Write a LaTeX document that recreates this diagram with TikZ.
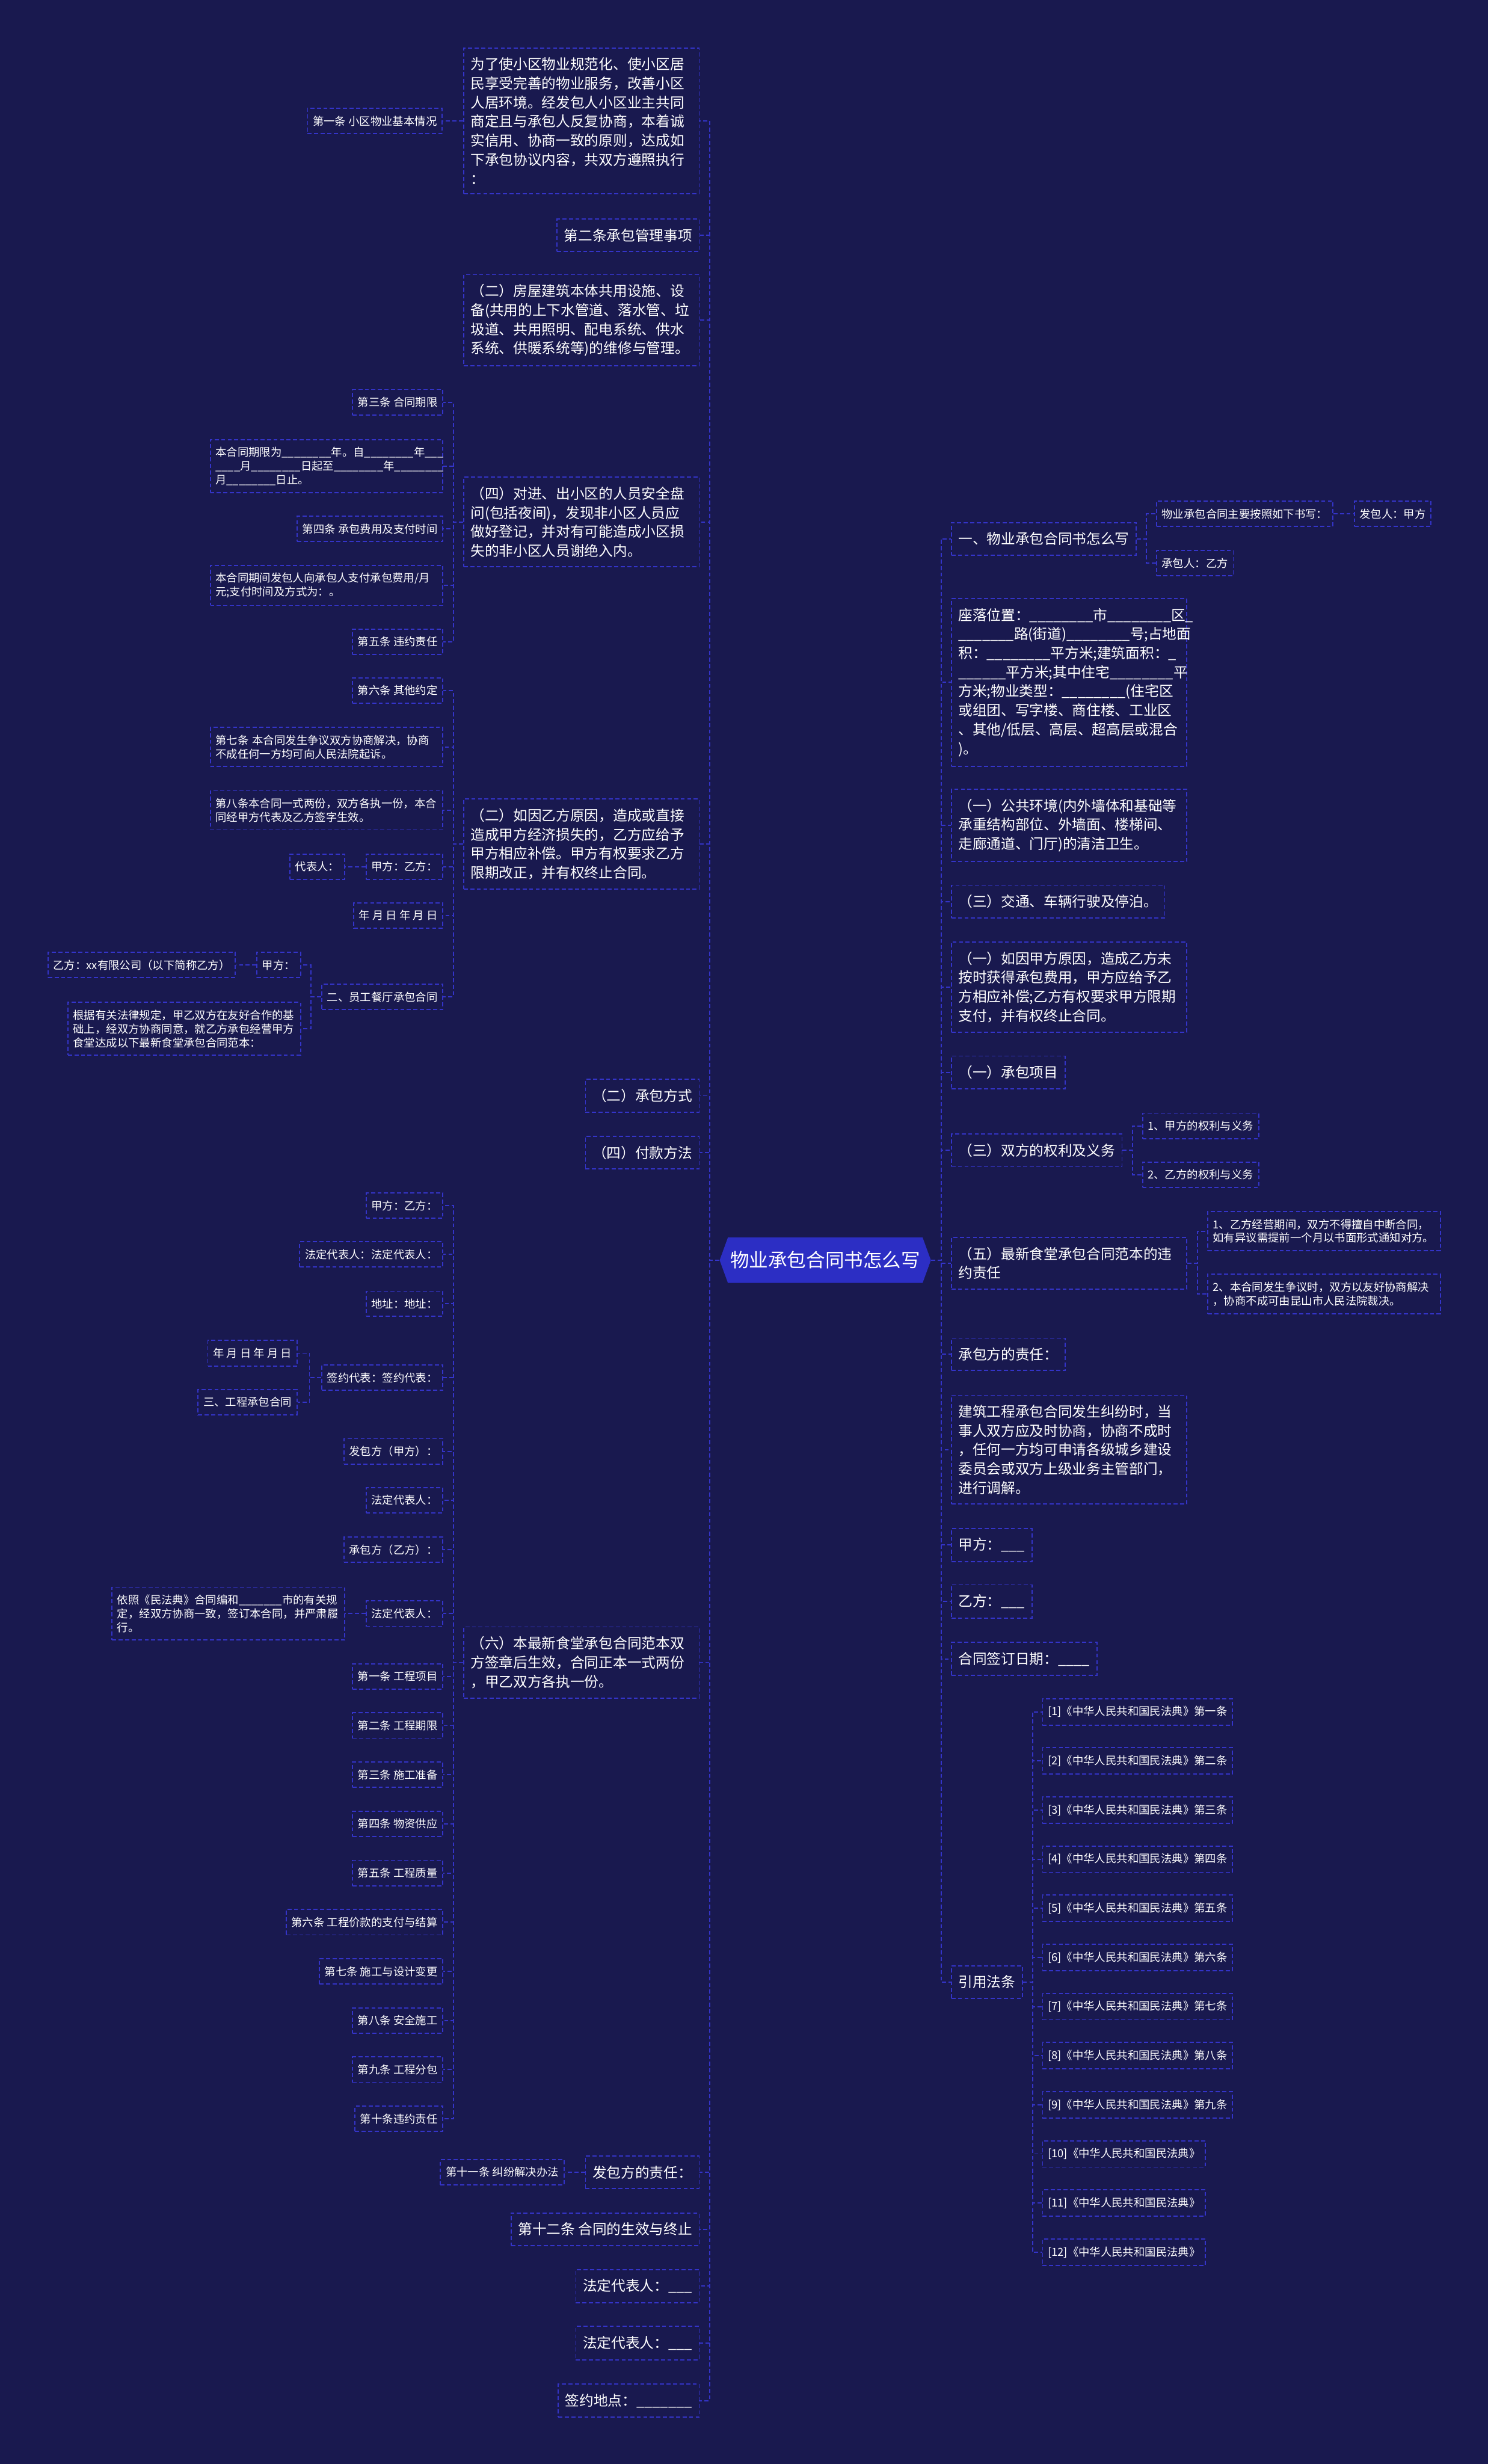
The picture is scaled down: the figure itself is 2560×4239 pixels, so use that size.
\documentclass[tikz,border=0pt]{standalone}
\usepackage{fontspec}
\setmainfont{Noto Sans CJK SC}
\usetikzlibrary{positioning,calc,shapes.symbols}
\definecolor{bgcol}{HTML}{19194F}
\definecolor{linecol}{HTML}{3434C8}
\definecolor{hubcol}{HTML}{2C2EC4}

\begin{document}
\begin{tikzpicture}[
    x=0.01cm, y=-0.01cm,
    node distance = 0.35cm,
    box/.style = {rectangle, draw=linecol, line width=0.55pt, dash pattern=on 2pt off 1.2pt, text=white},
    big/.style = {box, font=\fontsize{6.97pt}{9.33pt}\selectfont, inner xsep=0.12cm, inner ysep=0.165cm},
    small/.style = {box, font=\fontsize{5.41pt}{6.69pt}\selectfont, inner xsep=0.09cm, inner ysep=0.13cm},
    bigpara/.style = {big, text width=3.81cm, align=left},
    smallpara/.style = {small, text width=3.82cm, align=left},
    hub/.style = {signal, signal to=west and east, signal pointer angle=140, fill=hubcol, text=white,
        font=\fontsize{9.3pt}{11pt}\selectfont, minimum height=0.78cm, inner xsep=0.04cm},
    link/.style = {draw=linecol, line width=0.55pt, dash pattern=on 2pt off 1.2pt}
]

% Background
\fill[bgcol] (0,0) rectangle (2560,4239);
\useasboundingbox (0,0) rectangle (2560,4239);

% Root
\node[hub] (hub) at (1420,2168) {物业承包合同书怎么写};

% Left branches
\node[bigpara, anchor=east] (intro) at (1204,208) {为了使小区物业规范化、使小区居\\民享受完善的物业服务，改善小区\\人居环境。经发包人小区业主共同\\商定且与承包人反复协商，本着诚\\实信用、协商一致的原则，达成如\\下承包协议内容，共双方遵照执行\\：};
\node[small, left=of intro] (art1info) {第一条 小区物业基本情况};
\node[big, anchor=east] (mgmt) at (1204,405) {第二条承包管理事项};
\node[bigpara, anchor=east] (repair) at (1204,551) {（二）房屋建筑本体共用设施、设\\备(共用的上下水管道、落水管、垃\\圾道、共用照明、配电系统、供水\\系统、供暖系统等)的维修与管理。};
\node[bigpara, anchor=east] (guard) at (1204,898) {（四）对进、出小区的人员安全盘\\问(包括夜间)，发现非小区人员应\\做好登记，并对有可能造成小区损\\失的非小区人员谢绝入内。};
\node[bigpara, anchor=east] (lossB) at (1204,1452) {（二）如因乙方原因，造成或直接\\造成甲方经济损失的，乙方应给予\\甲方相应补偿。甲方有权要求乙方\\限期改正，并有权终止合同。};
\node[big, anchor=east] (mode) at (1204,1885) {（二）承包方式};
\node[big, anchor=east] (pay) at (1204,1983) {（四）付款方法};
\node[bigpara, anchor=east] (effect) at (1204,2860) {（六）本最新食堂承包合同范本双\\方签章后生效，合同正本一式两份\\，甲乙双方各执一份。};
\node[big, anchor=east] (empDuty) at (1204,3737) {发包方的责任：};
\node[small, left=of empDuty] (w11) {第十一条 纠纷解决办法};
\node[big, anchor=east] (w12) at (1204,3835) {第十二条 合同的生效与终止};
\node[big, anchor=east] (legalA) at (1204,3933) {法定代表人：\_\_\_};
\node[big, anchor=east] (legalB) at (1204,4031) {法定代表人：\_\_\_};
\node[big, anchor=east] (place) at (1204,4130) {签约地点：\_\_\_\_\_\_\_};

% Property contract terms
\node[small, anchor=east] (term) at (763,692) {第三条 合同期限};
\node[smallpara, anchor=east] (termtext) at (763,802) {本合同期限为\_\_\_\_\_\_\_\_年。自\_\_\_\_\_\_\_\_年\_\_\_\\\_\_\_\_月\_\_\_\_\_\_\_\_日起至\_\_\_\_\_\_\_\_年\_\_\_\_\_\_\_\_\\月\_\_\_\_\_\_\_\_日止。};
\node[small, anchor=east] (fee) at (763,910) {第四条 承包费用及支付时间};
\node[smallpara, anchor=east] (feetext) at (763,1007) {本合同期间发包人向承包人支付承包费用/月\\元;支付时间及方式为：。};
\node[small, anchor=east] (breach) at (763,1104) {第五条 违约责任};
\node[small, anchor=east] (other) at (763,1188) {第六条 其他约定};
\node[smallpara, anchor=east] (dispute) at (763,1285) {第七条 本合同发生争议双方协商解决，协商\\不成任何一方均可向人民法院起诉。};
\node[smallpara, anchor=east] (copies) at (763,1394) {第八条本合同一式两份，双方各执一份，本合\\同经甲方代表及乙方签字生效。};
\node[small, anchor=east] (sign) at (763,1491) {甲方：乙方：};
\node[small, left=of sign] (rep) {代表人：};
\node[small, anchor=east] (date) at (763,1575) {年 月 日 年 月 日};
\node[small, anchor=east] (canteen) at (763,1715) {二、员工餐厅承包合同};
\node[small, anchor=east] (partyA) at (518,1660) {甲方：};
\node[small, left=of partyA] (partyB) {乙方：xx有限公司（以下简称乙方）};
\node[smallpara, anchor=east] (basis) at (518,1770) {根据有关法律规定，甲乙双方在友好合作的基\\础上，经双方协商同意，就乙方承包经营甲方\\食堂达成以下最新食堂承包合同范本：};

% Construction contract terms
\node[small, anchor=east] (cAB) at (763,2074) {甲方：乙方：};
\node[small, anchor=east] (cLegal) at (763,2158) {法定代表人：法定代表人：};
\node[small, anchor=east] (cAddr) at (763,2243) {地址：地址：};
\node[small, anchor=east] (cSign) at (763,2370) {签约代表：签约代表：};
\node[small, anchor=east] (cDate) at (512,2328) {年 月 日 年 月 日};
\node[small, anchor=east] (civil) at (512,2412) {三、工程承包合同};
\node[small, anchor=east] (employer) at (763,2497) {发包方（甲方）：};
\node[small, anchor=east] (empLegal) at (763,2581) {法定代表人：};
\node[small, anchor=east] (contractor) at (763,2666) {承包方（乙方）：};
\node[small, anchor=east] (conLegal) at (763,2776) {法定代表人：};
\node[smallpara, left=of conLegal] (civilBasis) {依照《民法典》合同编和\_\_\_\_\_\_\_市的有关规\\定，经双方协商一致，签订本合同，并严肃履\\行。};
\foreach \t [count=\i] in {第一条 工程项目, 第二条 工程期限, 第三条 施工准备, 第四条 物资供应, 第五条 工程质量,
    第六条 工程价款的支付与结算, 第七条 施工与设计变更, 第八条 安全施工, 第九条 工程分包, 第十条违约责任}
    \node[small, anchor=east] (w\i) at (763,{2884+(\i-1)*84.56}) {\t};

% Right branches
\node[big, anchor=west] (howto) at (1636,927) {一、物业承包合同书怎么写};
\node[small, anchor=west] (howtoMain) at (1989,884) {物业承包合同主要按照如下书写：};
\node[small, right=of howtoMain] (issuer) {发包人：甲方};
\node[small, anchor=west] (taker) at (1989,969) {承包人：乙方};
\node[bigpara, anchor=west] (location) at (1636,1174) {座落位置：\_\_\_\_\_\_\_\_市\_\_\_\_\_\_\_\_区\_\\\_\_\_\_\_\_\_路(街道)\_\_\_\_\_\_\_\_号;占地面\\积：\_\_\_\_\_\_\_\_平方米;建筑面积：\_\\\_\_\_\_\_\_平方米;其中住宅\_\_\_\_\_\_\_\_平\\方米;物业类型：\_\_\_\_\_\_\_\_(住宅区\\或组团、写字楼、商住楼、工业区\\、其他/低层、高层、超高层或混合\\)。};
\node[bigpara, anchor=west] (publicEnv) at (1636,1420) {（一）公共环境(内外墙体和基础等\\承重结构部位、外墙面、楼梯间、\\走廊通道、门厅)的清洁卫生。};
\node[big, anchor=west] (traffic) at (1636,1551) {（三）交通、车辆行驶及停泊。};
\node[bigpara, anchor=west] (lossA) at (1636,1698) {（一）如因甲方原因，造成乙方未\\按时获得承包费用，甲方应给予乙\\方相应补偿;乙方有权要求甲方限期\\支付，并有权终止合同。};
\node[big, anchor=west] (item) at (1636,1845) {（一）承包项目};
\node[big, anchor=west] (rights) at (1636,1979) {（三）双方的权利及义务};
\node[small, anchor=west] (rightsA) at (1965,1937) {1、甲方的权利与义务};
\node[small, anchor=west] (rightsB) at (1965,2021) {2、乙方的权利与义务};
\node[bigpara, anchor=west] (liability) at (1636,2173) {（五）最新食堂承包合同范本的违\\约责任};
\node[smallpara, anchor=west] (liab1) at (2077,2118) {1、乙方经营期间，双方不得擅自中断合同，\\如有异议需提前一个月以书面形式通知对方。};
\node[smallpara, anchor=west] (liab2) at (2077,2226) {2、本合同发生争议时，双方以友好协商解决\\，协商不成可由昆山市人民法院裁决。};
\node[big, anchor=west] (conDuty) at (1636,2330) {承包方的责任：};
\node[bigpara, anchor=west] (conflict) at (1636,2494) {建筑工程承包合同发生纠纷时，当\\事人双方应及时协商，协商不成时\\，任何一方均可申请各级城乡建设\\委员会或双方上级业务主管部门，\\进行调解。};
\node[big, anchor=west] (signA) at (1636,2658) {甲方：\_\_\_};
\node[big, anchor=west] (signB) at (1636,2755) {乙方：\_\_\_};
\node[big, anchor=west] (signDate) at (1636,2854) {合同签订日期：\_\_\_\_};
\node[big, anchor=west] (laws) at (1636,3410) {引用法条};
\foreach \s [count=\i] in {第一条, 第二条, 第三条, 第四条, 第五条, 第六条, 第七条, 第八条, 第九条, {}, {}, {}}
    \node[small, anchor=west] (law\i) at (1793,{2945+(\i-1)*84.5}) {[\i]《中华人民共和国民法典》\s};

% Connectors, left half
\foreach \p/\c in {hub/intro, hub/mgmt, hub/repair, hub/guard, hub/lossB, hub/mode, hub/pay, hub/effect,
    hub/empDuty, hub/w12, hub/legalA, hub/legalB, hub/place,
    intro/art1info, guard/term, guard/termtext, guard/fee, guard/feetext, guard/breach,
    lossB/other, lossB/dispute, lossB/copies, lossB/sign, lossB/date, lossB/canteen,
    sign/rep, canteen/partyA, canteen/basis, partyA/partyB,
    effect/cAB, effect/cLegal, effect/cAddr, effect/cSign, effect/employer, effect/empLegal,
    effect/contractor, effect/conLegal, effect/w1, effect/w2, effect/w3, effect/w4, effect/w5,
    effect/w6, effect/w7, effect/w8, effect/w9, effect/w10,
    cSign/cDate, cSign/civil, conLegal/civilBasis, empDuty/w11}
    \draw[link] (\p.west) -| ($(\p.west)!.5!(\c.east)$) |- (\c.east);

% Connectors, right half
\foreach \p/\c in {hub/howto, hub/location, hub/publicEnv, hub/traffic, hub/lossA, hub/item, hub/rights,
    hub/liability, hub/conDuty, hub/conflict, hub/signA, hub/signB, hub/signDate, hub/laws,
    howto/howtoMain, howto/taker, howtoMain/issuer, rights/rightsA, rights/rightsB,
    liability/liab1, liability/liab2}
    \draw[link] (\p.east) -| ($(\p.east)!.5!(\c.west)$) |- (\c.west);
\foreach \i in {1,...,12}
    \draw[link] (laws.east) -| ($(laws.east)!.5!(law\i.west)$) |- (law\i.west);

\end{tikzpicture}
\end{document}
